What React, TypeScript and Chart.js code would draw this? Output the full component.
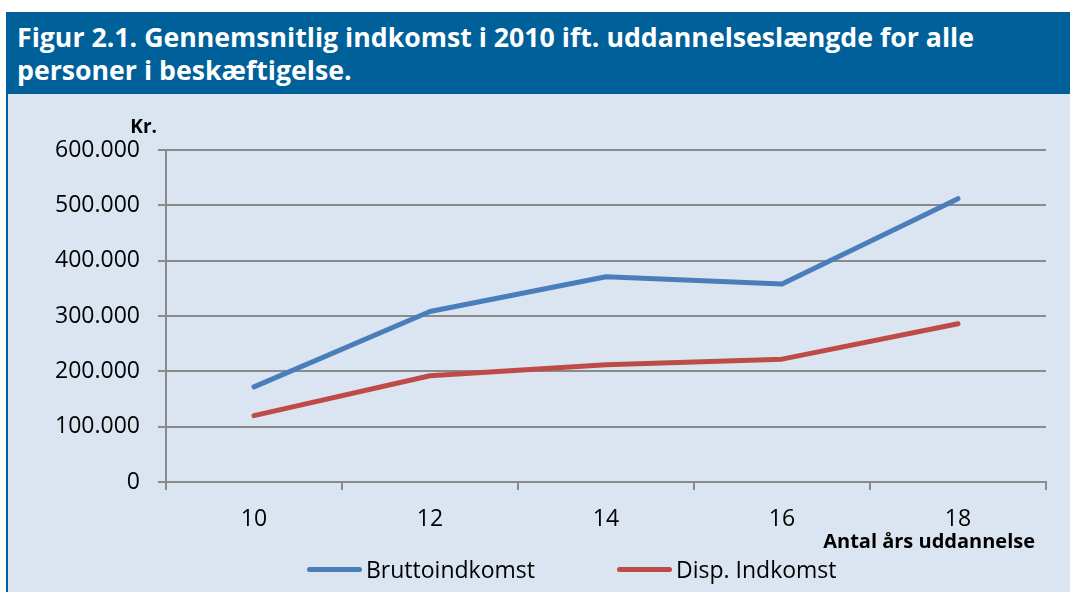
import { useEffect, useRef } from 'react';
import { Chart, registerables } from 'chart.js';

Chart.register(...registerables);

const categories = ['10', '12', '14', '16', '18'];
const bruttoindkomst = [172000, 308000, 371000, 358000, 512000];
const dispIndkomst = [120000, 192000, 212000, 222000, 286000];
const seriesNames = ['Bruttoindkomst', 'Disp. Indkomst'];
const seriesColors = ['#4A7EBB', '#BE4B48'];
const yMin = 0;
const yMax = 600000;
const yStep = 100000;

const titleLine1 = 'Figur 2.1. Gennemsnitlig indkomst i 2010 ift. uddannelseslængde for alle';
const titleLine2 = 'personer i beskæftigelse.';
const yUnit = 'Kr.';
const xTitle = 'Antal års uddannelse';

const FONT = '"Open Sans", "Noto Sans", sans-serif';
const GRID = '#8a8a8a';

function fmt(v: number): string {
  return String(Math.round(v)).replace(/\B(?=(\d{3})+(?!\d))/g, '.');
}

const axisTextPlugin = {
  id: 'axisText',
  afterDraw(chart: any) {
    const { ctx, chartArea } = chart;
    ctx.save();
    ctx.fillStyle = '#000';
    ctx.textBaseline = 'alphabetic';
    ctx.textAlign = 'right';
    ctx.font = `bold 19px ${FONT}`;
    ctx.fillText(yUnit, chartArea.left - 9, chartArea.top - 17);
    ctx.font = `bold 20px ${FONT}`;
    ctx.fillText(xTitle, chartArea.right - 11, chartArea.bottom + 66);
    ctx.restore();
  },
};

export default function App() {
  const ref = useRef<HTMLCanvasElement>(null);

  useEffect(() => {
    const chart = new Chart(ref.current!, {
      type: 'line',
      data: {
        labels: categories,
        datasets: [
          {
            label: seriesNames[0],
            data: bruttoindkomst,
            borderColor: seriesColors[0],
            backgroundColor: seriesColors[0],
            borderWidth: 5,
            pointRadius: 0,
            borderCapStyle: 'round',
            borderJoinStyle: 'round',
            tension: 0,
          },
          {
            label: seriesNames[1],
            data: dispIndkomst,
            borderColor: seriesColors[1],
            backgroundColor: seriesColors[1],
            borderWidth: 5,
            pointRadius: 0,
            borderCapStyle: 'round',
            borderJoinStyle: 'round',
            tension: 0,
          },
        ],
      },
      options: {
        responsive: false,
        animation: false,
        layout: { padding: { top: 56, right: 24, bottom: 40, left: 0 } },
        plugins: {
          legend: { display: false },
          tooltip: { enabled: false },
        },
        scales: {
          x: {
            offset: true,
            grid: {
              offset: true,
              drawOnChartArea: false,
              drawTicks: true,
              tickLength: 8,
              color: GRID,
              lineWidth: 2,
            },
            border: { display: true, color: GRID, width: 2 },
            ticks: {
              color: '#000',
              padding: 16,
              font: { family: FONT, size: 23 },
            },
            afterFit(scale: any) {
              scale.height = 70;
            },
          },
          y: {
            min: yMin,
            max: yMax,
            grid: {
              color: GRID,
              lineWidth: 2,
              drawTicks: true,
              tickLength: 8,
            },
            border: { display: true, color: GRID, width: 2 },
            ticks: {
              stepSize: yStep,
              color: '#000',
              padding: 18,
              font: { family: FONT, size: 23 },
              callback: (v: any) => fmt(Number(v)),
            },
            afterFit(scale: any) {
              scale.width = 158;
            },
          },
        },
      },
      plugins: [axisTextPlugin],
    });
    return () => chart.destroy();
  }, []);

  const legendItem = (i: number, left: number) => (
    <div
      key={i}
      style={{
        position: 'absolute',
        left,
        top: 554,
        height: 30,
        display: 'flex',
        alignItems: 'center',
        fontFamily: FONT,
        fontSize: 23,
        color: '#000',
        whiteSpace: 'nowrap',
      }}
    >
      <span
        style={{
          display: 'inline-block',
          width: 55,
          height: 5,
          borderRadius: 3,
          background: seriesColors[i],
          marginRight: 4,
        }}
      />
      <span>{seriesNames[i]}</span>
    </div>
  );

  return (
    <div
      style={{
        position: 'absolute',
        left: 0,
        top: 0,
        width: 1070,
        height: 592,
        background: '#fff',
        overflow: 'hidden',
      }}
    >
      <div
        style={{
          position: 'absolute',
          left: 6,
          top: 12,
          width: 1064,
          height: 82,
          background: '#00609A',
          color: '#fff',
          fontFamily: FONT,
          fontWeight: 'bold',
          fontSize: 26.7,
          lineHeight: '33px',
          boxSizing: 'border-box',
          padding: '8px 0 0 11px',
          whiteSpace: 'nowrap',
        }}
      >
        <div>{titleLine1}</div>
        <div>{titleLine2}</div>
      </div>
      <div
        style={{
          position: 'absolute',
          left: 6,
          top: 94,
          width: 1064,
          height: 498,
          background: '#DBE5F1',
          borderLeft: '2px solid #00609A',
          boxSizing: 'border-box',
        }}
      />
      <canvas
        ref={ref}
        width={1062}
        height={498}
        style={{ position: 'absolute', left: 8, top: 94, width: 1062, height: 498 }}
      />
      {legendItem(0, 307)}
      {legendItem(1, 617)}
    </div>
  );
}
